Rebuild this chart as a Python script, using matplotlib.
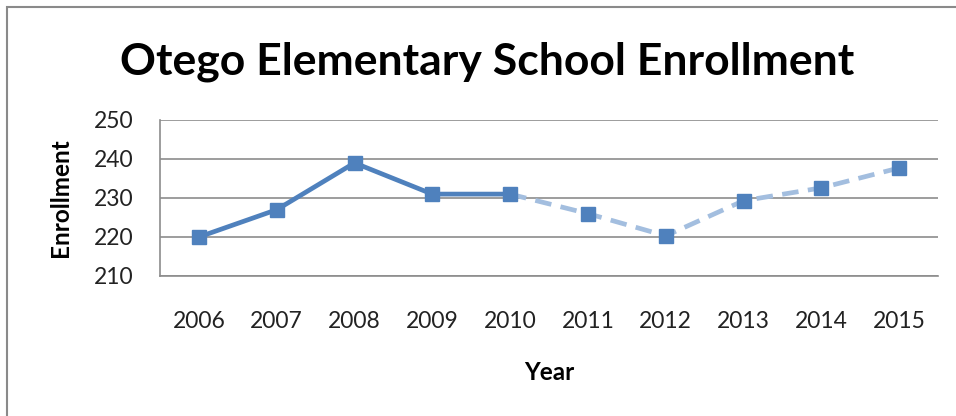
import matplotlib
matplotlib.use("Agg")
import matplotlib.pyplot as plt
from matplotlib.patches import Rectangle

plt.rcParams['font.family'] = ['Lato', 'DejaVu Sans']

years = ["2006", "2007", "2008", "2009", "2010", "2011", "2012", "2013", "2014", "2015"]
enrollment = [220, 227, 239, 231, 231, 226, 220.3, 229.3, 232.6, 237.7]
actual_end = 4  # index of last recorded year; later years are projected
y_ticks = [210, 220, 230, 240, 250]

dark = "#4F81BD"
light = "#A3BEDF"

fig = plt.figure(figsize=(9.56, 4.16), dpi=100)
fig.patches.append(Rectangle((7 / 956, -0.1), 1.2, 1 - 7 / 416 + 0.1,
                             transform=fig.transFigure, fill=False,
                             edgecolor="#8A8A8A", linewidth=1.5))

ax = fig.add_axes([160 / 956, 1 - 276 / 416, 778 / 956, 156 / 416])
x = list(range(len(years)))

ax.plot(x[actual_end:], enrollment[actual_end:], color=light, linewidth=3.4,
        linestyle=(0, (3.5, 2)), zorder=2)
ax.plot(x[:actual_end + 1], enrollment[:actual_end + 1], color=dark, linewidth=3.4,
        zorder=3)
ax.plot(x, enrollment, linestyle="none", marker="s", markersize=10,
        markerfacecolor=dark, markeredgecolor=dark, zorder=4)

ax.set_xlim(-0.5, len(years) - 0.5)
ax.set_ylim(210, 250)
ax.set_yticks(y_ticks)
ax.set_xticks(x)
ax.set_xticklabels(years)
ax.grid(axis="y", color="#8C8C8C", linewidth=1.2)
ax.set_axisbelow(True)
for side in ("top", "right"):
    ax.spines[side].set_visible(False)
for side in ("left", "bottom"):
    ax.spines[side].set_color("#8C8C8C")
    ax.spines[side].set_linewidth(1.2)
ax.tick_params(length=0, labelsize=16.5, colors="#222222")
ax.tick_params(axis="x", pad=25)
ax.tick_params(axis="y", pad=19)

fig.text(549 / 956, 1 - 372 / 416, "Year", ha="center", va="center",
         fontsize=17.5, fontweight="bold")
fig.text(60 / 956, 1 - 198 / 416, "Enrollment", ha="center", va="center",
         rotation=90, fontsize=17.5, fontweight="bold")

fig.text(487 / 956, 1 - 62 / 416, "Otego Elementary School Enrollment",
         ha="center", va="center", fontsize=32, fontweight="bold")

fig.savefig("out.png", dpi=100)
